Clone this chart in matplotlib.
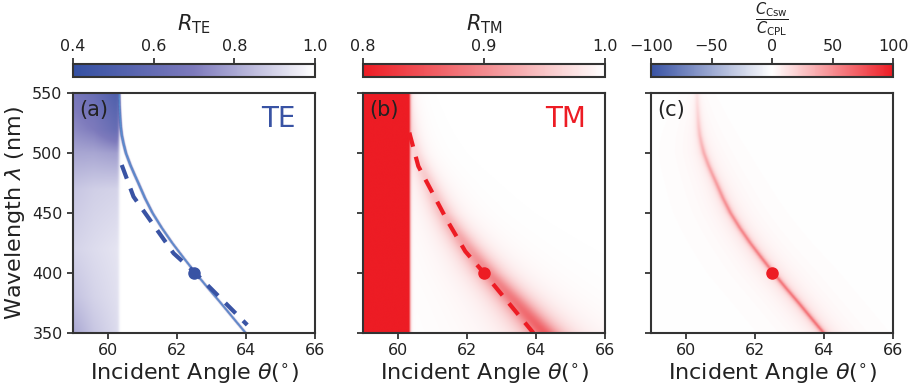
import numpy as np
import matplotlib
matplotlib.use("Agg")
import matplotlib.pyplot as plt
from matplotlib.colors import LinearSegmentedColormap

# ---------------- data ----------------
theta_range = [59.0, 66.0]
lam_range = [350.0, 550.0]
theta_c = 60.33  # edge of the total-reflection region

# resonance curve (wavelength -> angle)
res_lam = [350, 360, 375, 387.5, 400, 412.5, 425, 437.5, 450, 462.5, 475, 482,
           490, 500, 508, 515, 522, 530, 540, 550]
res_theta = [63.99, 63.70, 63.27, 62.90, 62.54, 62.20, 61.87, 61.57, 61.30, 61.08,
             60.89, 60.78, 60.66, 60.53, 60.46, 60.41, 60.38, 60.36, 60.34, 60.33]

# TE background below critical angle (rows: wavelength, cols: angle)
te_left_lam = [350, 380, 420, 470, 500, 520, 550]
te_left_theta = [59.0, 59.6, 60.3]
te_left_R = [[0.80, 0.87, 0.92],
             [0.86, 0.90, 0.93],
             [0.90, 0.92, 0.94],
             [0.87, 0.89, 0.90],
             [0.80, 0.80, 0.78],
             [0.74, 0.70, 0.60],
             [0.68, 0.62, 0.50]]
te_dip_depth = 1.0
te_dip_sigma = 0.022

# TM broad band: depth and width along wavelength
tm_lam = [350, 400, 450, 500, 550]
tm_depth = [0.14, 0.10, 0.06, 0.035, 0.02]
tm_width = [0.45, 0.38, 0.30, 0.22, 0.15]
tm_shift = [0.25, 0.08, 0.02, 0.0, 0.0]
tm_left_R = 0.6

# ratio C_Csw / C_CPL along the resonance
c_lam = [350, 400, 450, 500, 530, 550]
c_amp = [55, 52, 45, 32, 18, 10]
c_width = 0.07
c_glow = [8, 8, 6, 4, 2, 1]

# dashed model curves and the marked point
te_dash_theta = [60.41, 60.75, 61.33, 61.91, 62.54, 63.27, 64.04]
te_dash_lam = [490, 463.6, 440, 416.4, 400, 379, 356.7]
tm_dash_theta = [60.34, 60.60, 61.43, 61.96, 62.50, 63.93]
tm_dash_lam = [517, 489, 444, 418, 400, 350]
point_theta = [62.5]
point_lam = [400]

# ---------------- colours ----------------
blue = "#3953a4"
red = "#ed1c24"
cmap_te = LinearSegmentedColormap.from_list("te", [(0, "#3450a2"), (0.5, "#7d7abc"), (1, "white")])
cmap_te.set_under("#5a92d2")
cmap_tm = LinearSegmentedColormap.from_list("tm", [(0, red), (0.5, "#f28a8e"), (1, "white")])
cmap_c = LinearSegmentedColormap.from_list("c", [(0, blue), (0.5, "white"), (1, red)])

# ---------------- build fields ----------------
th = np.linspace(theta_range[0], theta_range[1], 1401)
la = np.linspace(lam_range[0], lam_range[1], 401)
TH, LA = np.meshgrid(th, la)
thr = np.interp(la, res_lam, res_theta)[:, None]

# TE
tmp = np.array([[np.interp(t, te_left_theta, row) for t in th] for row in te_left_R])
left_te = np.array([[np.interp(l, te_left_lam, tmp[:, j]) for j in range(len(th))] for l in la])
s = 1.0 / (1.0 + np.exp((TH - theta_c) / 0.02))
d = TH - thr
right_te = 1 - te_dip_depth * np.exp(-d**2 / (2 * te_dip_sigma**2))
R_te = s * left_te + (1 - s) * right_te

# TM
dep = np.interp(la, tm_lam, tm_depth)[:, None]
wid = np.interp(la, tm_lam, tm_width)[:, None]
sh = np.interp(la, tm_lam, tm_shift)[:, None]
right_tm = 1 - dep * wid**2 / ((d - sh)**2 + wid**2)
s2 = 1.0 / (1.0 + np.exp((TH - theta_c) / 0.025))
R_tm = s2 * tm_left_R + (1 - s2) * right_tm

# ratio
amp = np.interp(la, c_lam, c_amp)[:, None]
glow = np.interp(la, c_lam, c_glow)[:, None]
C = amp * c_width**2 / (d**2 + c_width**2) + glow * 0.6**2 / (d**2 + 0.6**2)

# ---------------- figure ----------------
plt.rcParams["font.family"] = ["DejaVu Sans"]
plt.rcParams["mathtext.fontset"] = "dejavusans"
text_col = "#222222"
fig = plt.figure(figsize=(9.11, 3.89), dpi=100)
W, H = 911.0, 389.0
lefts = [73, 363, 651]
aw = 242
ax_b, ax_t = 333, 93
cb_b, cb_t = 77, 64

fields = [R_te, R_tm, C]
cmaps = [cmap_te, cmap_tm, cmap_c]
lims = [(0.4, 1.0), (0.8, 1.0), (-100, 100)]
cticks = [[0.4, 0.6, 0.8, 1.0], [0.8, 0.9, 1.0], [-100, -50, 0, 50, 100]]
clabels = [r"$R_{\mathrm{TE}}$", r"$R_{\mathrm{TM}}$", r"$\dfrac{C_{\mathrm{Csw}}}{C_{\mathrm{CPL}}}$"]
tags = ["(a)", "(b)", "(c)"]

for i in range(3):
    ax = fig.add_axes([lefts[i] / W, 1 - ax_b / H, aw / W, (ax_b - ax_t) / H])
    im = ax.imshow(fields[i], origin="lower", aspect="auto", cmap=cmaps[i],
                   vmin=lims[i][0], vmax=lims[i][1], interpolation="bilinear",
                   extent=[theta_range[0], theta_range[1], lam_range[0], lam_range[1]])
    ax.set_xlim(theta_range)
    ax.set_ylim(lam_range)
    ax.set_xticks([60, 62, 64, 66])
    ax.set_yticks([350, 400, 450, 500, 550])
    ax.tick_params(labelsize=11.5, colors=text_col, length=4, width=1.2)
    for sp in ax.spines.values():
        sp.set_linewidth(1.5)
        sp.set_color("#333333")
    ax.set_xlabel(r"Incident Angle $\theta(^{\circ})$", fontsize=16, color=text_col, labelpad=2)
    if i == 0:
        ax.set_ylabel(r"Wavelength $\lambda$ (nm)", fontsize=16, color=text_col, labelpad=4)
    else:
        ax.set_yticklabels([])
    ax.text(0.025, 0.93, tags[i], transform=ax.transAxes, fontsize=15,
            color=text_col, ha="left", va="center")
    if i == 0:
        ax.plot(te_dash_theta, te_dash_lam, ls=(0, (3.5, 2.5)), color=blue, lw=3)
        ax.plot(point_theta, point_lam, "o", color=blue, ms=8)
        ax.text(0.92, 0.89, "TE", transform=ax.transAxes, fontsize=20, color=blue,
                ha="right", va="center")
    elif i == 1:
        ax.plot(tm_dash_theta, tm_dash_lam, ls=(0, (3.5, 2.5)), color=red, lw=3)
        ax.plot(point_theta, point_lam, "o", color=red, ms=8)
        ax.text(0.92, 0.89, "TM", transform=ax.transAxes, fontsize=20, color=red,
                ha="right", va="center")
    else:
        ax.plot(point_theta, point_lam, "o", color=red, ms=8)

    cax = fig.add_axes([lefts[i] / W, 1 - cb_b / H, aw / W, (cb_b - cb_t) / H])
    cb = fig.colorbar(im, cax=cax, orientation="horizontal")
    cb.set_ticks(cticks[i])
    cax.xaxis.set_ticks_position("top")
    cax.xaxis.set_label_position("top")
    cax.tick_params(labelsize=11.5, colors=text_col, length=4, width=1.2)
    cb.outline.set_linewidth(1.5)
    cb.outline.set_edgecolor("#333333")
    cx = (lefts[i] + aw / 2) / W
    if i < 2:
        fig.text(cx, 1 - 24 / H, clabels[i], fontsize=15, color=text_col,
                 ha="center", va="center")
    else:
        fig.text(cx, 1 - 19 / H, clabels[i], fontsize=10.5, color=text_col,
                 ha="center", va="center")

fig.savefig("out.png", dpi=100)
